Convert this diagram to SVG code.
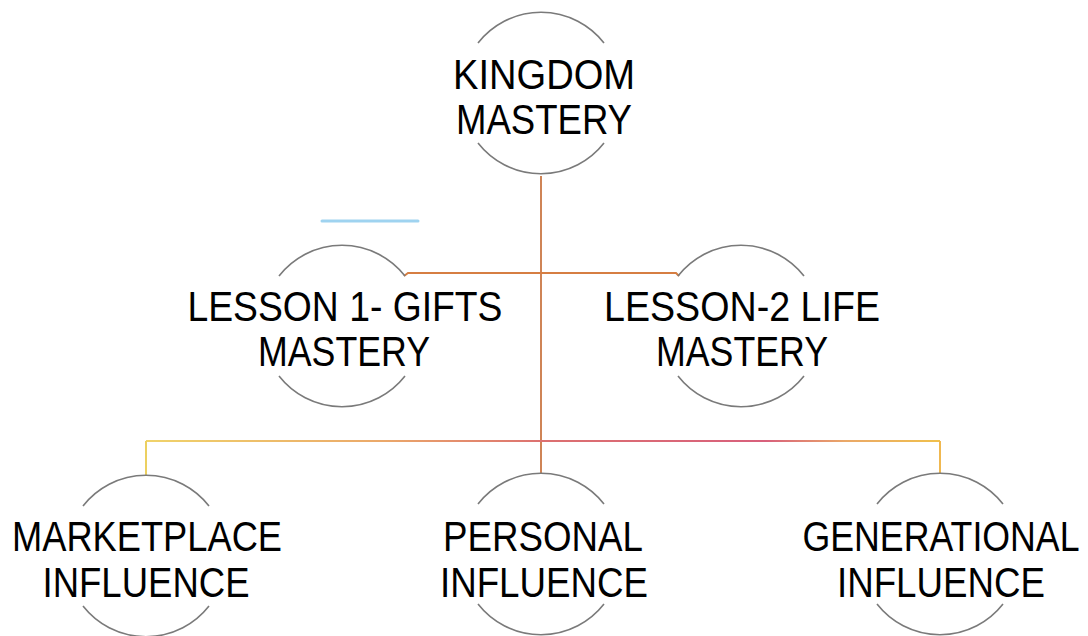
<svg xmlns="http://www.w3.org/2000/svg" width="1088" height="636" viewBox="0 0 1088 636">
  <defs>
    <style>
      .arc { fill: none; stroke: #7a7a7a; stroke-width: 1.6; }
      .lbl { font-family: "Liberation Sans", Arial, Helvetica, sans-serif; font-size: 42px; fill: #000; text-anchor: middle; }
      .conn { fill: none; stroke-width: 2; }
    </style>
    <linearGradient id="gBottom" gradientUnits="userSpaceOnUse" x1="146" y1="0" x2="940" y2="0">
      <stop offset="0" stop-color="#f0d36a"/>
      <stop offset="0.3" stop-color="#eba86a"/>
      <stop offset="0.5" stop-color="#dc7070"/>
      <stop offset="0.78" stop-color="#d8607c"/>
      <stop offset="0.88" stop-color="#eaa868"/>
      <stop offset="1" stop-color="#f0c04c"/>
    </linearGradient>
  </defs>
  <rect width="1088" height="636" fill="#ffffff"/>

  <g id="connectors">
    <path class="conn" stroke="#cf8456" d="M541 176 V474"/>
    <path class="conn" stroke="#d67e42" d="M404 276 L408 273 H676 L679 276"/>
    <path class="conn" stroke="url(#gBottom)" d="M146 441 H940"/>
    <path class="conn" stroke="#ecd060" d="M146 441 V476"/>
    <path class="conn" stroke="#f0b850" d="M940 441 V474"/>
  </g>

  <path id="blue-mark" d="M322 221 H418" stroke="#9fd3f0" stroke-width="3" stroke-linecap="round" fill="none"/>

  <g id="node-kingdom">
    <path class="arc" d="M478 43 A80 80 0 0 1 604 43"/>
    <path class="arc" d="M478 143 A80 80 0 0 0 604 143"/>
    <text class="lbl" x="544" y="89" textLength="182" lengthAdjust="spacingAndGlyphs">KINGDOM</text>
    <text class="lbl" x="544" y="134" textLength="176" lengthAdjust="spacingAndGlyphs">MASTERY</text>
  </g>

  <g id="node-lesson1">
    <path class="arc" d="M279 276 A80 80 0 0 1 405 276"/>
    <path class="arc" d="M279 376 A80 80 0 0 0 405 376"/>
    <text class="lbl" x="345" y="321" textLength="315" lengthAdjust="spacingAndGlyphs">LESSON 1- GIFTS</text>
    <text class="lbl" x="344" y="366" textLength="172" lengthAdjust="spacingAndGlyphs">MASTERY</text>
  </g>

  <g id="node-lesson2">
    <path class="arc" d="M678 276 A80 80 0 0 1 804 276"/>
    <path class="arc" d="M678 376 A80 80 0 0 0 804 376"/>
    <text class="lbl" x="742" y="321" textLength="276" lengthAdjust="spacingAndGlyphs">LESSON-2 LIFE</text>
    <text class="lbl" x="742" y="366" textLength="172" lengthAdjust="spacingAndGlyphs">MASTERY</text>
  </g>

  <g id="node-marketplace">
    <path class="arc" d="M83 506 A80 80 0 0 1 209 506"/>
    <path class="arc" d="M83 606 A80 80 0 0 0 209 606"/>
    <text class="lbl" x="147" y="551" textLength="270" lengthAdjust="spacingAndGlyphs">MARKETPLACE</text>
    <text class="lbl" x="146" y="597" textLength="207" lengthAdjust="spacingAndGlyphs">INFLUENCE</text>
  </g>

  <g id="node-personal">
    <path class="arc" d="M478 504 A80 80 0 0 1 604 504"/>
    <path class="arc" d="M478 604 A80 80 0 0 0 604 604"/>
    <text class="lbl" x="543" y="551" textLength="200" lengthAdjust="spacingAndGlyphs">PERSONAL</text>
    <text class="lbl" x="544" y="597" textLength="208" lengthAdjust="spacingAndGlyphs">INFLUENCE</text>
  </g>

  <g id="node-generational">
    <path class="arc" d="M877 504 A80 80 0 0 1 1003 504"/>
    <path class="arc" d="M877 604 A80 80 0 0 0 1003 604"/>
    <text class="lbl" transform="translate(941 551) scale(0.85 1)" x="0" y="0">GENERATIONAL</text>
    <text class="lbl" x="941" y="597" textLength="208" lengthAdjust="spacingAndGlyphs">INFLUENCE</text>
  </g>
</svg>
